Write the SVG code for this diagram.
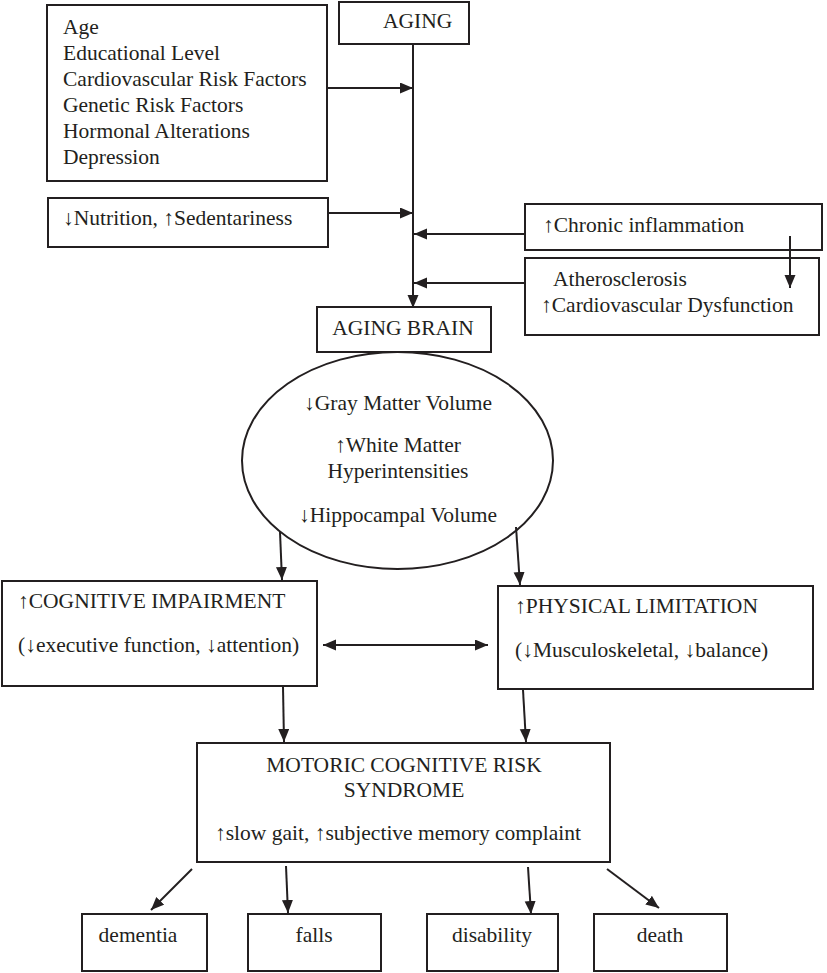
<svg xmlns="http://www.w3.org/2000/svg" width="827" height="973" viewBox="0 0 827 973">
<style>
.box{fill:#fff;stroke:#231f20;stroke-width:2}
text{font-family:'Liberation Serif','DejaVu Serif',serif;font-size:21.5px;fill:#231f20}
.c{text-anchor:middle}
.ln{stroke:#231f20;stroke-width:2;fill:none;marker-end:url(#ah)}
</style>
<defs>
<marker id="ah" markerUnits="userSpaceOnUse" markerWidth="14" markerHeight="12" refX="13" refY="5.5" orient="auto-start-reverse">
<path d="M0,0 L13,5.5 L0,11 z" fill="#231f20"/>
</marker>
</defs>
<rect width="827" height="973" fill="#fff"/>
<g id="risk-factors">
<rect class="box" x="47" y="5" width="280" height="176"/>
<text x="63" y="34">Age</text>
<text x="63" y="60">Educational Level</text>
<text x="63" y="86">Cardiovascular Risk Factors</text>
<text x="63" y="112">Genetic Risk Factors</text>
<text x="63" y="138">Hormonal Alterations</text>
<text x="63" y="164">Depression</text>
</g>
<g id="aging">
<rect class="box" x="339" y="2" width="130" height="42"/>
<text x="383" y="28">AGING</text>
</g>
<g id="nutrition">
<rect class="box" x="48" y="198" width="280" height="49"/>
<text x="63" y="225">↓Nutrition, ↑Sedentariness</text>
</g>
<g id="inflammation">
<rect class="box" x="525" y="204" width="297" height="46"/>
<text x="543" y="232">↑Chronic inflammation</text>
</g>
<g id="atherosclerosis">
<rect class="box" x="525" y="258" width="294" height="77"/>
<text x="553" y="286">Atherosclerosis</text>
<text x="541" y="312">↑Cardiovascular Dysfunction</text>
</g>
<g id="aging-brain">
<rect class="box" x="317" y="307" width="174" height="45"/>
<text class="c" x="403" y="335">AGING BRAIN</text>
</g>
<g id="brain-changes">
<ellipse cx="397.5" cy="460.5" rx="155.5" ry="108.5" fill="#fff" stroke="#231f20" stroke-width="2"/>
<text class="c" x="398" y="410">↓Gray Matter Volume</text>
<text class="c" x="398" y="452">↑White Matter</text>
<text class="c" x="398" y="478">Hyperintensities</text>
<text class="c" x="398" y="522">↓Hippocampal Volume</text>
</g>
<g id="cognitive">
<rect class="box" x="2" y="581" width="315" height="105"/>
<text x="18" y="608">↑COGNITIVE IMPAIRMENT</text>
<text x="18" y="652">(↓executive function, ↓attention)</text>
</g>
<g id="physical">
<rect class="box" x="498" y="586" width="315" height="103"/>
<text x="515" y="613">↑PHYSICAL LIMITATION</text>
<text x="515" y="657">(↓Musculoskeletal, ↓balance)</text>
</g>
<g id="mcr">
<rect class="box" x="197" y="743" width="413" height="119"/>
<text class="c" x="404" y="772">MOTORIC COGNITIVE RISK</text>
<text class="c" x="404" y="797">SYNDROME</text>
<text x="215" y="840">↑slow gait, ↑subjective memory complaint</text>
</g>
<g id="dementia">
<rect class="box" x="82" y="914" width="125" height="57"/>
<text class="c" x="138" y="942">dementia</text>
</g>
<g id="falls">
<rect class="box" x="248" y="914" width="133" height="57"/>
<text class="c" x="314" y="942">falls</text>
</g>
<g id="disability">
<rect class="box" x="427" y="914" width="131" height="57"/>
<text class="c" x="492" y="942">disability</text>
</g>
<g id="death">
<rect class="box" x="594" y="914" width="133" height="57"/>
<text class="c" x="660" y="942">death</text>
</g>
<g id="connectors">
<line class="ln" x1="413" y1="44" x2="413" y2="308"/>
<line class="ln" x1="327" y1="88" x2="413" y2="88"/>
<line class="ln" x1="328" y1="213" x2="413" y2="213"/>
<line class="ln" x1="525" y1="234" x2="414" y2="234"/>
<line class="ln" x1="525" y1="283" x2="414" y2="283"/>
<line class="ln" x1="790" y1="236" x2="790" y2="288"/>
<line class="ln" x1="280" y1="532" x2="282" y2="580"/>
<line class="ln" x1="516" y1="527" x2="520" y2="585"/>
<line class="ln" x1="323" y1="645" x2="488" y2="645" style="marker-start:url(#ah)"/>
<line class="ln" x1="283" y1="687" x2="284" y2="742"/>
<line class="ln" x1="523" y1="690" x2="526" y2="742"/>
<line class="ln" x1="192" y1="869" x2="151" y2="910"/>
<line class="ln" x1="286" y1="866" x2="288" y2="913"/>
<line class="ln" x1="528" y1="867" x2="531" y2="914"/>
<line class="ln" x1="607" y1="869" x2="659" y2="908"/>
</g>
</svg>
